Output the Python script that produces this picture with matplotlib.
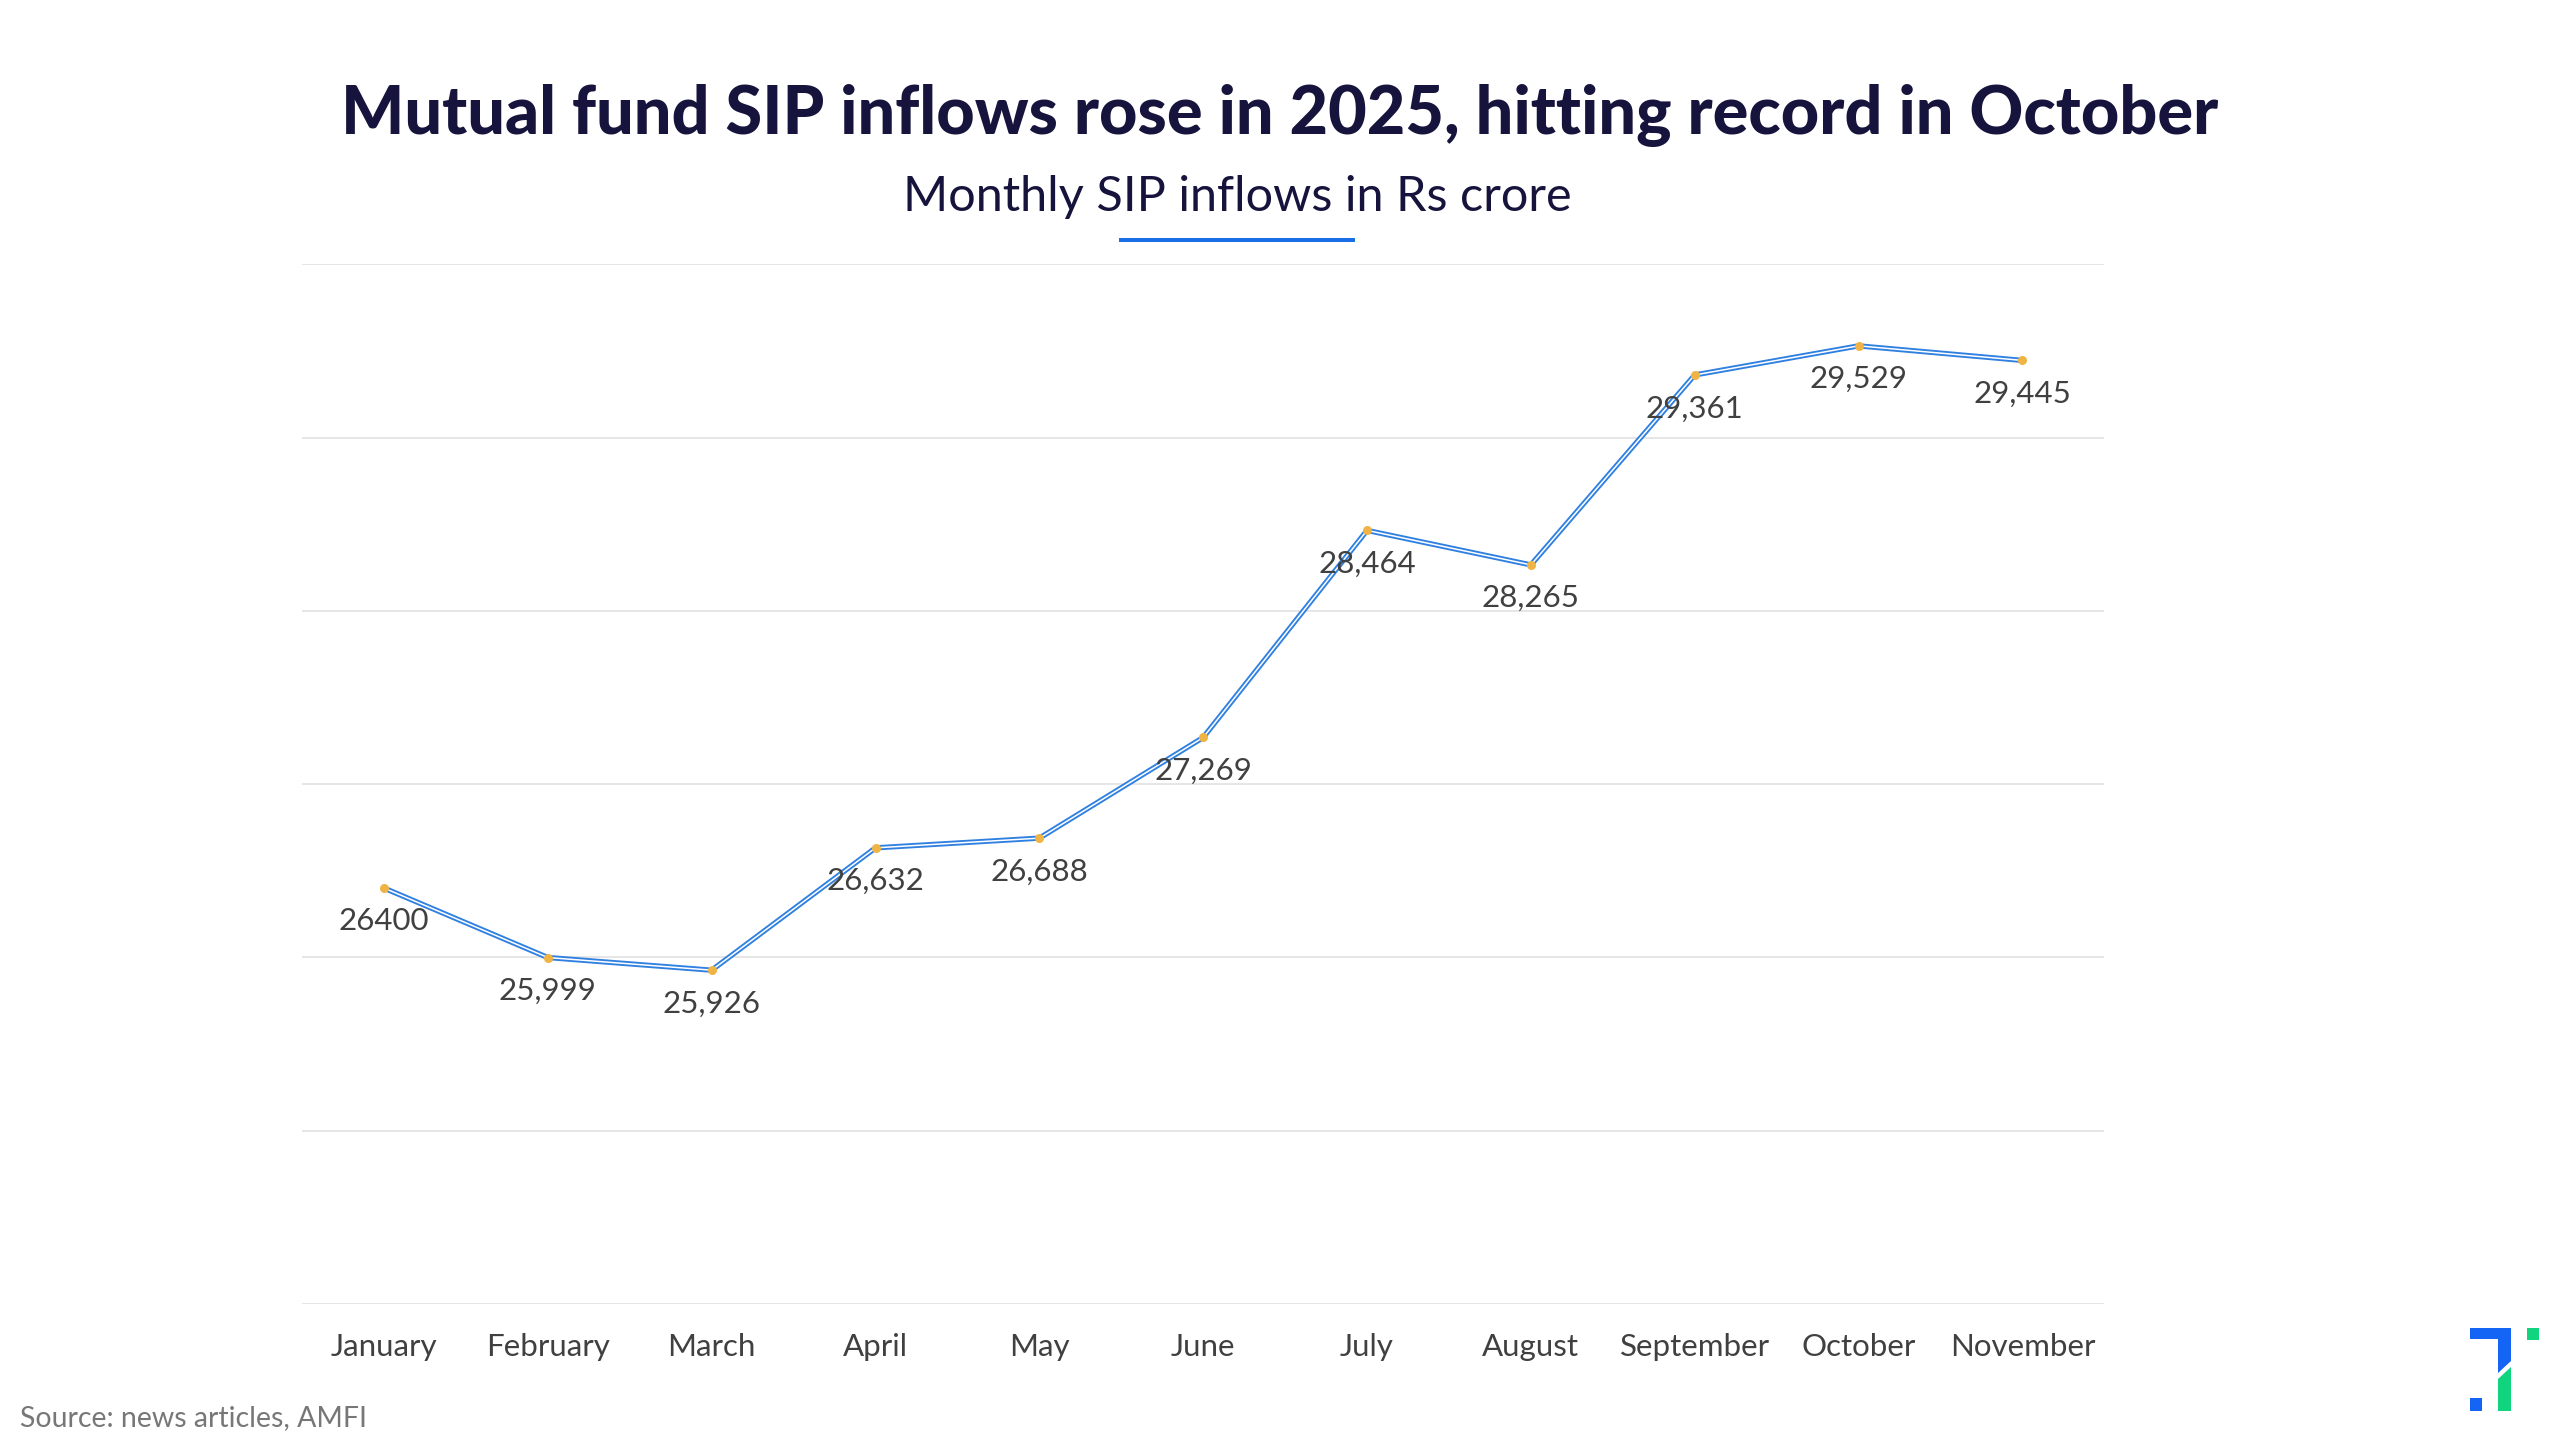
import matplotlib
matplotlib.use("Agg")
import matplotlib.pyplot as plt
from matplotlib.patches import Rectangle, Polygon

months = ["January", "February", "March", "April", "May", "June",
          "July", "August", "September", "October", "November"]
inflows = [26400, 25999, 25926, 26632, 26688, 27269,
           28464, 28265, 29361, 29529, 29445]
labels = ["26400", "25,999", "25,926", "26,632", "26,688", "27,269",
          "28,464", "28,265", "29,361", "29,529", "29,445"]

NAVY = "#16143c"
BLUE = "#2f80e0"
ORANGE = "#f0b444"
TEXT = "#404040"

fig = plt.figure(figsize=(25.6, 14.4), dpi=100)
fig.patch.set_facecolor("white")

# --- main chart ---
ax = fig.add_axes([0.118, 0.0945, 0.704, 0.722])
x = range(len(months))
ax.plot(x, inflows, color=BLUE, lw=3.8, solid_joinstyle="miter", zorder=3)
ax.plot(x, inflows, color="white", lw=1.1, zorder=4)
ax.plot(x, inflows, ls="none", marker="o", ms=6.5, color=ORANGE,
        markeredgewidth=0, zorder=5)
for xi, yi, lab in zip(x, inflows, labels):
    ax.annotate(lab, (xi, yi), xytext=(0, -24), textcoords="offset points",
                ha="center", va="center", fontsize=22.5, color=TEXT,
                family="Lato", zorder=6)

ax.set_xlim(-0.5, len(months) - 0.5)
ax.set_ylim(24000, 30000)
ax.set_yticks(range(24000, 30001, 1000))
ax.set_yticklabels([])
ax.tick_params(axis="y", length=0)
ax.set_xticks(list(x))
ax.set_xticklabels(months, fontsize=22.5, color=TEXT, family="Lato")
ax.tick_params(axis="x", length=0, pad=21)
ax.grid(axis="y", color="#e6e6e6", lw=1.4)
ax.set_axisbelow(True)
for s in ax.spines.values():
    s.set_visible(False)

# --- titles ---
fig.text(0.500, 0.920, "Mutual fund SIP inflows rose in 2025, hitting record in October",
         ha="center", va="center", fontsize=48, fontweight="black",
         color=NAVY, family="Lato")
fig.text(0.4835, 0.863, "Monthly SIP inflows in Rs crore",
         ha="center", va="center", fontsize=35, fontweight="normal",
         color=NAVY, family="Lato")
fig.text(0.008, 0.015, "Source: news articles, AMFI", ha="left", va="center",
         fontsize=20.5, color="#777777", family="Lato")

# --- decorations in pixel space ---
deco = fig.add_axes([0, 0, 1, 1], zorder=-1)
deco.set_xlim(0, 2560)
deco.set_ylim(1440, 0)
deco.axis("off")
deco.add_patch(Rectangle((1119, 238), 236, 4, color="#1a6fe6", lw=0))
# logo
deco.add_patch(Rectangle((2470, 1328), 41, 11, color="#1464f6", lw=0))
deco.add_patch(Polygon([(2498, 1339), (2511, 1339), (2511, 1361), (2498, 1373)],
                       color="#1464f6", lw=0))
deco.add_patch(Polygon([(2498, 1379), (2511, 1367), (2511, 1411), (2498, 1411)],
                       color="#10d47e", lw=0))
deco.add_patch(Rectangle((2527, 1328), 12, 12, color="#10d47e", lw=0))
deco.add_patch(Rectangle((2470, 1398), 12, 13, color="#1464f6", lw=0))

fig.savefig("out.png", dpi=100)
plt.close(fig)
